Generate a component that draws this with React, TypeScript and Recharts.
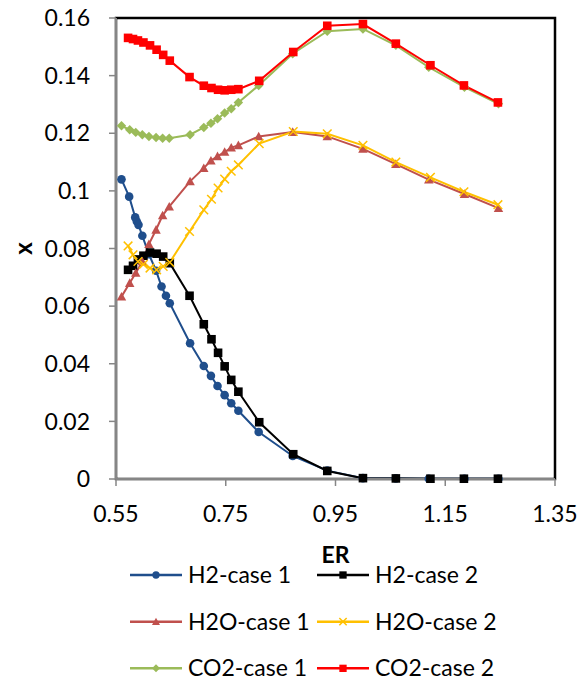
import { LineChart, Line, XAxis, YAxis, Legend, ReferenceArea, Label } from 'recharts';

// ER values (case 1 / case 2 share most of their grid)
const h2Case1ER = [0.56, 0.574, 0.585, 0.588, 0.591, 0.598, 0.61, 0.623, 0.633, 0.641, 0.648, 0.685, 0.71, 0.723, 0.735, 0.748, 0.76, 0.773, 0.81, 0.872, 0.935, 1.0, 1.06, 1.12, 1.185, 1.247];
const case1ER = [0.56, 0.575, 0.586, 0.598, 0.61, 0.623, 0.635, 0.647, 0.685, 0.71, 0.723, 0.735, 0.748, 0.76, 0.773, 0.81, 0.872, 0.935, 1.0, 1.06, 1.12, 1.185, 1.247];
const case2ER = [0.572, 0.581, 0.59, 0.6, 0.612, 0.624, 0.636, 0.648, 0.684, 0.71, 0.724, 0.736, 0.748, 0.76, 0.773, 0.811, 0.873, 0.935, 1.0, 1.06, 1.123, 1.184, 1.246];

const h2Case1 = [0.104, 0.098, 0.0908, 0.0894, 0.0882, 0.0844, 0.078, 0.0723, 0.0668, 0.0636, 0.061, 0.0471, 0.0392, 0.0358, 0.0323, 0.0291, 0.0263, 0.0237, 0.0163, 0.008, 0.0029, 0.0003, 0.0002, 0.0001, 0.0001, 0.0001];
const h2Case2 = [0.0726, 0.074, 0.0762, 0.0775, 0.0786, 0.0782, 0.0772, 0.0749, 0.0636, 0.0537, 0.0485, 0.0438, 0.0391, 0.0344, 0.0303, 0.0197, 0.0086, 0.0028, 0.0003, 0.0002, 0.0001, 0.0001, 0.0001];
const h2oCase1 = [0.0633, 0.068, 0.0715, 0.0755, 0.0815, 0.0865, 0.0915, 0.0945, 0.1033, 0.1079, 0.1105, 0.112, 0.1135, 0.115, 0.1158, 0.1189, 0.1204, 0.1189, 0.1146, 0.1093, 0.1039, 0.0989, 0.094];
const h2oCase2 = [0.0809, 0.0778, 0.0755, 0.0745, 0.0732, 0.0726, 0.0738, 0.0752, 0.0859, 0.0934, 0.0971, 0.101, 0.1041, 0.1068, 0.109, 0.1164, 0.1206, 0.1198, 0.1158, 0.11, 0.1047, 0.0997, 0.0952];
const co2Case1 = [0.1226, 0.1212, 0.1203, 0.1195, 0.1189, 0.1185, 0.1183, 0.1183, 0.1195, 0.122, 0.1235, 0.125, 0.127, 0.1285, 0.1307, 0.1366, 0.1476, 0.1554, 0.1562, 0.1505, 0.1429, 0.136, 0.1302];
const co2Case2 = [0.1531, 0.1527, 0.1522, 0.1515, 0.1505, 0.149, 0.1472, 0.1452, 0.1395, 0.1365, 0.1357, 0.1351, 0.1349, 0.1351, 0.1353, 0.1382, 0.1482, 0.1573, 0.1579, 0.1511, 0.1436, 0.1366, 0.1307];

const xTicks = [0.55, 0.75, 0.95, 1.15, 1.35];
const yTicks = [0, 0.02, 0.04, 0.06, 0.08, 0.1, 0.12, 0.14, 0.16];

const toPoints = (er: number[], vals: number[]) => er.map((e, i) => ({ er: e, x: vals[i] }));

type Shape = 'circle' | 'square' | 'triangle' | 'cross' | 'diamond';

const SERIES: { name: string; color: string; shape: Shape; data: { er: number; x: number }[] }[] = [
  { name: 'H2-case 1', color: '#1F4E8C', shape: 'circle', data: toPoints(h2Case1ER, h2Case1) },
  { name: 'H2-case 2', color: '#000000', shape: 'square', data: toPoints(case2ER, h2Case2) },
  { name: 'H2O-case 1', color: '#C0504D', shape: 'triangle', data: toPoints(case1ER, h2oCase1) },
  { name: 'H2O-case 2', color: '#FFC000', shape: 'cross', data: toPoints(case2ER, h2oCase2) },
  { name: 'CO2-case 1', color: '#9BBB59', shape: 'diamond', data: toPoints(case1ER, co2Case1) },
  { name: 'CO2-case 2', color: '#FF0000', shape: 'square', data: toPoints(case2ER, co2Case2) },
];

const FONT = 'Lato, "Open Sans", sans-serif';

function Mark({ shape, cx, cy, color, scale = 1 }: { shape: Shape; cx?: number; cy?: number; color: string; scale?: number }) {
  if (cx == null || cy == null) return null;
  const s = 4.3 * scale;
  switch (shape) {
    case 'circle':
      return <circle cx={cx} cy={cy} r={s} fill={color} />;
    case 'square':
      return <rect x={cx - s} y={cy - s} width={2 * s} height={2 * s} fill={color} />;
    case 'triangle':
      return <polygon points={`${cx},${cy - s * 1.1} ${cx + s * 1.1},${cy + s * 0.9} ${cx - s * 1.1},${cy + s * 0.9}`} fill={color} />;
    case 'diamond':
      return <polygon points={`${cx},${cy - s * 1.1} ${cx + s * 1.1},${cy} ${cx},${cy + s * 1.1} ${cx - s * 1.1},${cy}`} fill={color} />;
    case 'cross':
      return (
        <g stroke={color} strokeWidth={1.5}>
          <line x1={cx - s} y1={cy - s} x2={cx + s} y2={cy + s} />
          <line x1={cx - s} y1={cy + s} x2={cx + s} y2={cy - s} />
        </g>
      );
  }
  return null;
}

// two columns, three rows, in series order
const renderLegend = () => (
  <svg width={547} height={128} style={{ display: 'block' }}>
    {SERIES.map((s, i) => {
      const col = i % 2;
      const row = Math.floor(i / 2);
      const x0 = col ? 309 : 122;
      const y = 23 + row * 46.67;
      return (
        <g key={s.name}>
          <line x1={x0} x2={x0 + 52} y1={y} y2={y} stroke={s.color} strokeWidth={2.5} />
          <Mark shape={s.shape} cx={x0 + 26} cy={y} color={s.color} scale={0.85} />
          <text x={x0 + 58} y={y} dy="0.35em" fontSize={23} fontFamily={FONT} fill="#000">
            {s.name}
          </text>
        </g>
      );
    })}
  </svg>
);

export default function App() {
  return (
    <div style={{ marginTop: -8 }}>
      <LineChart width={571} height={680} margin={{ top: 18, right: 24, bottom: 0, left: 0 }}>
        <ReferenceArea x1={0.55} x2={1.35} y1={0} y2={0.16} fill="none" stroke="#000" strokeWidth={2.5} />
        <XAxis
          dataKey="er"
          type="number"
          domain={[0.55, 1.35]}
          ticks={xTicks}
          tickFormatter={(v: number) => v.toFixed(2)}
          height={73}
          allowDuplicatedCategory={false}
          axisLine={{ stroke: '#868686', strokeWidth: 2 }}
          tickLine={{ stroke: '#868686', strokeWidth: 1.5 }}
          tickSize={7}
          tickMargin={20}
          tick={{ fontSize: 23, fontFamily: FONT, fill: '#000' }}
        >
          <Label
            content={(p: any) => (
              <text x={p.viewBox.x + p.viewBox.width / 2} y={563} textAnchor="middle" fontSize={23} fontWeight="bold" fontFamily={FONT} fill="#000">
                ER
              </text>
            )}
          />
        </XAxis>
        <YAxis
          type="number"
          domain={[0, 0.16]}
          ticks={yTicks}
          width={108}
          axisLine={{ stroke: '#868686', strokeWidth: 2 }}
          tickLine={{ stroke: '#868686', strokeWidth: 1.5 }}
          tickSize={7}
          tickMargin={19}
          tick={{ fontSize: 23, fontFamily: FONT, fill: '#000' }}
        >
          <Label
            content={(p: any) => {
              const cy = p.viewBox.y + p.viewBox.height / 2;
              return (
                <text x={24} y={cy} transform={`rotate(-90, 24, ${cy})`} textAnchor="middle" fontSize={24} fontWeight="bold" fontFamily={FONT} fill="#000">
                  x
                </text>
              );
            }}
          />
        </YAxis>
        {SERIES.map((s) => (
          <Line
            key={s.name}
            name={s.name}
            data={s.data}
            dataKey="x"
            stroke={s.color}
            strokeWidth={2}
            isAnimationActive={false}
            dot={(p: any) => <Mark key={`${s.name}-${p.index}`} shape={s.shape} cx={p.cx} cy={p.cy} color={s.color} />}
            activeDot={false}
          />
        ))}
        <Legend verticalAlign="bottom" content={renderLegend} />
      </LineChart>
    </div>
  );
}
